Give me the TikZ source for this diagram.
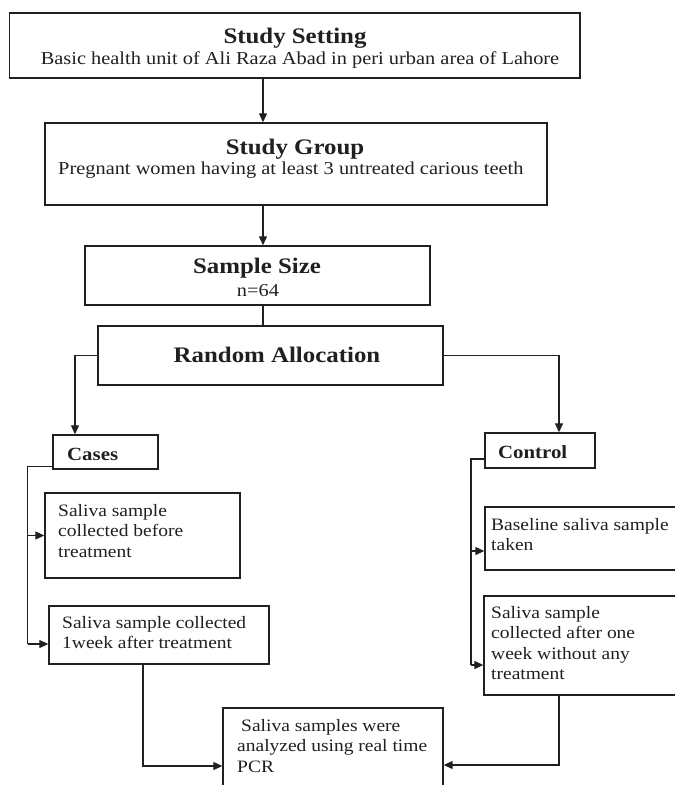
\documentclass[tikz,border=0pt]{standalone}
\usepackage{fontspec}
\setmainfont[FakeStretch=1.12]{Liberation Serif}
\usetikzlibrary{arrows.meta,calc}
\definecolor{ink}{HTML}{231F20}
\newcommand\bodyf{\fontsize{18.2}{20.5}\selectfont}
\newcommand\boxf{\fontsize{17.4}{20.5}\selectfont}
\newcommand\titlef{\fontsize{22.2}{24}\selectfont\bfseries}
\newcommand\subtitlef{\fontsize{18.6}{21}\selectfont\bfseries}
\tikzset{
  box/.style={draw=ink,line width=1.4pt,rectangle,inner sep=0pt},
  txt/.style={inner sep=0pt,text=ink,font=\bodyf,align=left,anchor=base west},
  btxt/.style={txt,font=\boxf},
  ttl/.style={inner sep=0pt,text=ink,font=\titlef,anchor=base},
  conn/.style={draw=ink,line width=1.2pt},
  arr/.style={conn,-{Triangle[length=9pt,width=8pt]}}
}
\begin{document}
\begin{tikzpicture}[x=1pt,y=-1pt]
\useasboundingbox (0,0) rectangle (675,785);
\clip (0,0) rectangle (675,785);
\fill[white] (0,0) rectangle (675,785);
% boxes
\node[box,minimum width=570.5pt,minimum height=65pt] (b1) at (294.75,45.5) {};
\node[box,minimum width=502pt,minimum height=82pt] (b2) at (296,164) {};
\node[box,minimum width=345pt,minimum height=59pt] (b3) at (257.5,275.5) {};
\node[box,minimum width=345pt,minimum height=59pt] (b4) at (270.5,355.5) {};
\node[box,minimum width=105pt,minimum height=34pt] (cases) at (105.5,452) {};
\node[box,minimum width=110pt,minimum height=35pt] (control) at (540,450.5) {};
\node[box,minimum width=195pt,minimum height=85pt] (c1) at (142.5,535.5) {};
\node[box,minimum width=220pt,minimum height=58pt] (c2) at (159,635) {};
\node[box,minimum width=215pt,minimum height=63pt] (k1) at (592.5,538.5) {};
\node[box,minimum width=216pt,minimum height=99pt] (k2) at (592,645.5) {};
\node[box,minimum width=220pt,minimum height=102pt] (fin) at (333,759) {};
% texts (multi-line nodes: base = baseline of last line)
\node[ttl] (t1a) at (295,43) {Study Setting};
\node[txt,anchor=base] (t1b) at (300,64) {Basic health unit of Ali Raza Abad in peri urban area of Lahore};
\node[ttl] (t2a) at (295,154) {Study Group};
\node[txt] (t2b) at (58,174) {Pregnant women having at least 3 untreated carious teeth};
\node[ttl] (t3a) at (257,273) {Sample Size};
\node[txt,anchor=base] (t3b) at (258,296) {n=64};
\node[ttl] (t4) at (277,362) {Random Allocation};
\node[txt,font=\subtitlef] (tcases) at (67,460) {Cases};
\node[txt,font=\subtitlef] (tcontrol) at (498,458) {Control};
\node[btxt] (tc1) at (58,557) {Saliva sample\\collected before\\treatment};
\node[btxt] (tc2) at (62,648.5) {Saliva sample collected\\1week after treatment};
\node[btxt] (tk1) at (491,550.5) {Baseline saliva sample\\taken};
\node[btxt] (tk2) at (491,679.5) {Saliva sample\\collected after one\\week without any\\treatment};
\node[btxt] (tfin) at (237,772) {\hspace{4pt}Saliva samples were\\analyzed using real time\\PCR};
% helper coordinates
\coordinate (ax) at (263,0);
\coordinate (lx) at (75,0);
\coordinate (rx) at (559,0);
\coordinate (cx) at (27.5,0);
\coordinate (kx) at (471,0);
\coordinate (bx) at (143,0);
\coordinate (casesout) at ([yshift=3pt]cases.south west);
\coordinate (controlout) at ([yshift=-8.5pt]control.west);
\coordinate (c2in) at ([yshift=-9pt]c2.west);
\coordinate (k1in) at ([yshift=-12.5pt]k1.west);
\coordinate (k2in) at ([yshift=-19.5pt]k2.west);
\coordinate (finl) at ([yshift=-7pt]fin.west);
\coordinate (finr) at ([yshift=-6pt]fin.east);
% connectors
\draw[arr] (b1.south -| ax) -- (b2.north -| ax);
\draw[arr] (b2.south -| ax) -- (b3.north -| ax);
\draw[conn] (b3.south -| ax) -- (b4.north -| ax);
\draw[arr] (b4.west) -| (cases.north -| lx);
\draw[arr] (b4.east) -| (control.north -| rx);
\draw[conn] (casesout) -| (cx |- c2in);
\draw[arr] (cx |- c1.west) -- (c1.west);
\draw[arr] (cx |- c2in) -- (c2in);
\draw[conn] (controlout) -| (kx |- k2in);
\draw[arr] (kx |- k1in) -- (k1in);
\draw[arr] (kx |- k2in) -- (k2in);
\draw[arr] (c2.south -| bx) |- (finl);
\draw[arr] (k2.south -| rx) |- (finr);
\end{tikzpicture}
\end{document}
